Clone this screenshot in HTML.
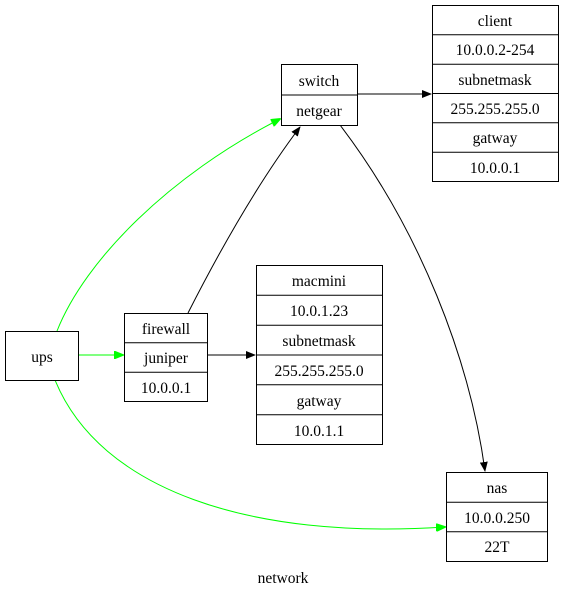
<!DOCTYPE html>
<html><head><meta charset="utf-8"><style>
html,body{margin:0;padding:0;background:#fff;}
svg{display:block;font-family:"Liberation Serif",serif;}
</style></head><body>
<svg width="566" height="596" viewBox="0 0 566 596" xmlns="http://www.w3.org/2000/svg">
<defs>
<marker id="ab" markerWidth="10" markerHeight="8" refX="9" refY="4" orient="auto" markerUnits="userSpaceOnUse"><path d="M0,0 L10,4 L0,8 z" fill="#000"/></marker>
<marker id="ag" markerWidth="10" markerHeight="8" refX="9" refY="4" orient="auto" markerUnits="userSpaceOnUse"><path d="M0,0 L10,4 L0,8 z" fill="#00ff00" stroke="#00ff00"/></marker>
</defs>
<g fill="none" stroke-width="1">
<path d="M57,331 C85,260 170,175 280,119" stroke="#00ff00" marker-end="url(#ag)"/>
<path d="M78,355 L123,355" stroke="#00ff00" marker-end="url(#ag)"/>
<path d="M55,380 C100,490 250,540 445,527" stroke="#00ff00" marker-end="url(#ag)"/>
<path d="M188,313 C220,250 260,180 300,127" stroke="#000" marker-end="url(#ab)"/>
<path d="M207,355 L255,355" stroke="#000" marker-end="url(#ab)"/>
<path d="M357,94 L431,94" stroke="#000" marker-end="url(#ab)"/>
<path d="M340,125 C420,230 470,360 485,471" stroke="#000" marker-end="url(#ab)"/>
</g>
<g fill="#fff" stroke="#000" stroke-width="1">
<rect x="432.5" y="5.5" width="126" height="176"/>
<line x1="432.5" y1="34.8" x2="558.5" y2="34.8"/><line x1="432.5" y1="64.2" x2="558.5" y2="64.2"/>
<line x1="432.5" y1="93.5" x2="558.5" y2="93.5"/><line x1="432.5" y1="122.8" x2="558.5" y2="122.8"/>
<line x1="432.5" y1="152.2" x2="558.5" y2="152.2"/>
<rect x="281.5" y="64.5" width="76" height="61"/><line x1="281.5" y1="95" x2="357.5" y2="95"/>
<rect x="256.5" y="265.5" width="126" height="179"/>
<line x1="256.5" y1="295.3" x2="382.5" y2="295.3"/><line x1="256.5" y1="325.2" x2="382.5" y2="325.2"/>
<line x1="256.5" y1="355" x2="382.5" y2="355"/><line x1="256.5" y1="384.8" x2="382.5" y2="384.8"/>
<line x1="256.5" y1="414.7" x2="382.5" y2="414.7"/>
<rect x="124.5" y="313.5" width="83" height="88"/>
<line x1="124.5" y1="342.8" x2="207.5" y2="342.8"/><line x1="124.5" y1="372.2" x2="207.5" y2="372.2"/>
<rect x="5.5" y="331.5" width="73" height="49"/>
<rect x="446.5" y="472.5" width="101" height="89"/>
<line x1="446.5" y1="502.2" x2="547.5" y2="502.2"/><line x1="446.5" y1="531.8" x2="547.5" y2="531.8"/>
</g>
<g font-size="15.5" text-anchor="middle" fill="#000">
<text x="495" y="26">client</text><text x="495" y="55">10.0.0.2-254</text>
<text x="495" y="85">subnetmask</text><text x="495" y="114">255.255.255.0</text>
<text x="495" y="143">gatway</text><text x="495" y="173">10.0.0.1</text>
<text x="319" y="86">switch</text><text x="319" y="116">netgear</text>
<text x="319" y="286">macmini</text><text x="319" y="316">10.0.1.23</text>
<text x="319" y="346">subnetmask</text><text x="319" y="376">255.255.255.0</text>
<text x="319" y="406">gatway</text><text x="319" y="436">10.0.1.1</text>
<text x="166" y="334">firewall</text><text x="166" y="363">juniper</text><text x="166" y="393">10.0.0.1</text>
<text x="42" y="362">ups</text>
<text x="497" y="493">nas</text><text x="497" y="523">10.0.0.250</text><text x="497" y="552">22T</text>
<text x="283" y="583">network</text>
</g>
</svg>
</body></html>
